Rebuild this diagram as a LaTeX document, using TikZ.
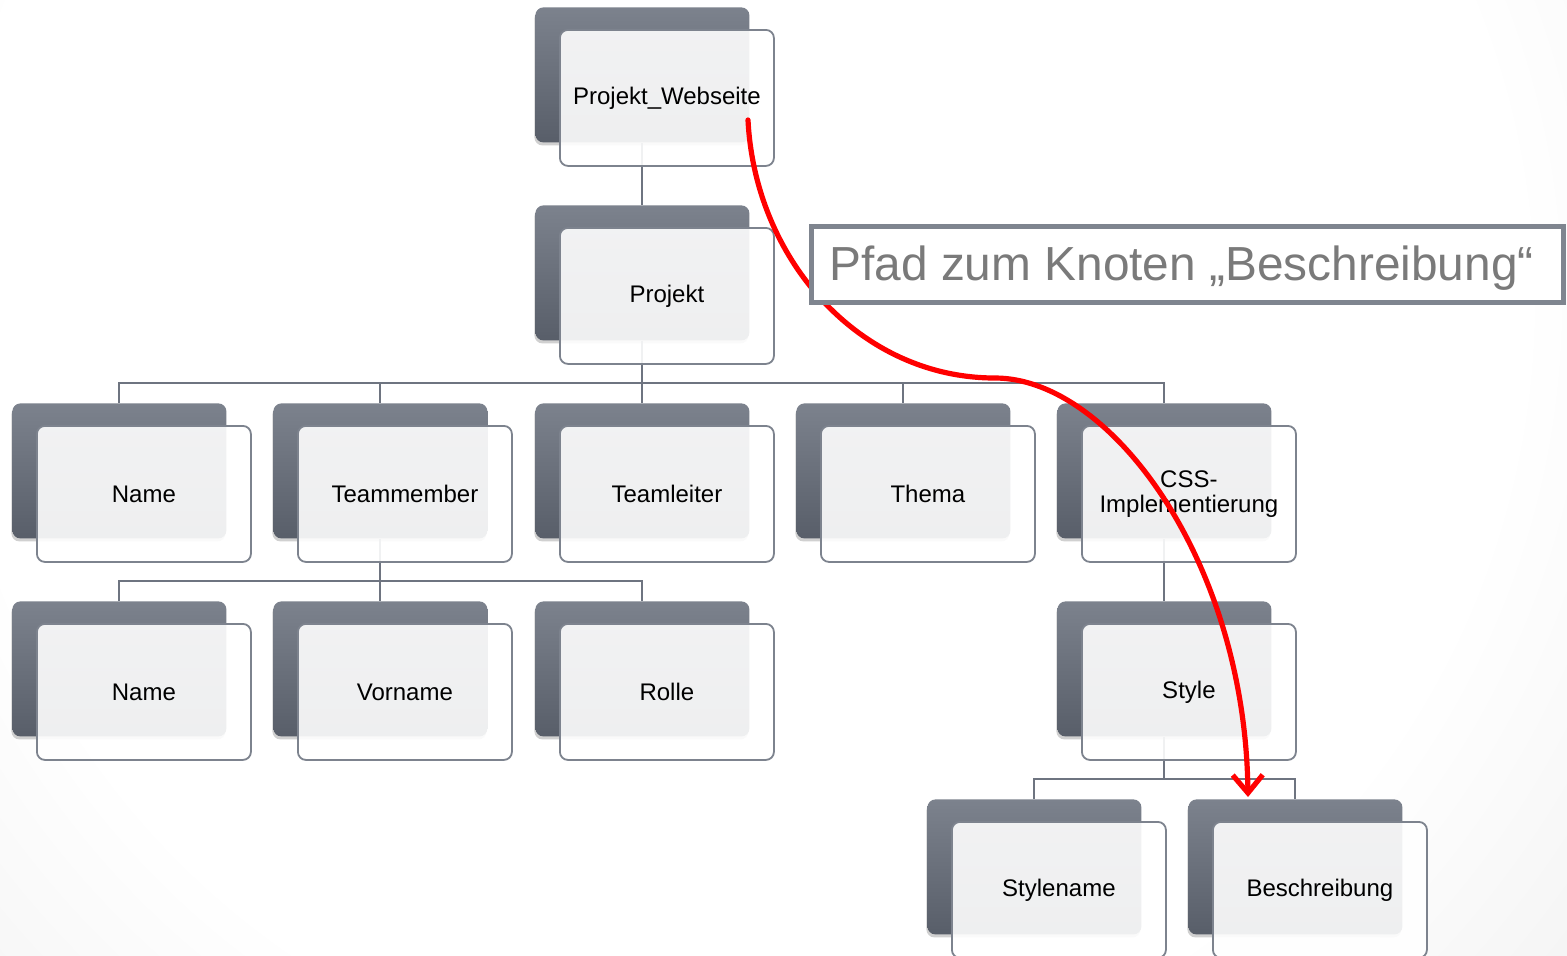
\documentclass[tikz,border=0pt]{standalone}
\usepackage{fontspec}
\setmainfont{Liberation Sans}
\usetikzlibrary{arrows.meta,calc,shadows}

\definecolor{boxtop}{HTML}{7C828D}
\definecolor{boxbot}{HTML}{585E69}
\definecolor{rimgray}{HTML}{7D838E}
\definecolor{linegray}{HTML}{6E7480}
\definecolor{pathred}{HTML}{FF0000}
\definecolor{captiongray}{HTML}{7A7A7A}
\definecolor{framegray}{HTML}{7F858F}

% soft background glow
\pgfdeclareradialshading{bgglow}{\pgfpoint{0bp}{0bp}}{color(0bp)=(white); color(16bp)=(white); color(50bp)=(black!24)}

\tikzset{
  backcard/.style={anchor=north west, minimum width=107pt, minimum height=67.5pt,
    inner sep=0pt, rounded corners=4pt, top color=boxtop, bottom color=boxbot, draw=none,
    drop shadow={shadow xshift=-0.5pt, shadow yshift=-1.5pt, opacity=0.3, fill=black!60}},
  frontcard/.style={anchor=north west, minimum width=107pt, minimum height=68pt,
    inner sep=0pt, rounded corners=4pt, fill=white, fill opacity=0.9, text opacity=1,
    draw=rimgray, line width=0.9pt, align=center,
    font=\fontsize{12}{12.5}\selectfont},
  conn/.style={draw=linegray, line width=1pt},
  redpath/.style={draw=pathred, line width=2.6pt, line cap=round,
    -{Straight Barb[length=9pt,width=15pt]}},
  captionbox/.style={anchor=north west, draw=framegray, line width=2.5pt, fill=white,
    minimum height=38pt, inner xsep=9pt, text height=19pt, text depth=3pt,
    text=captiongray, font=\fontsize{23.9}{26}\selectfont}
}

\begin{document}
\begin{tikzpicture}[x=0.5pt, y=-0.5pt]
  \useasboundingbox (0,0) rectangle (1567,955);

  % background
  \begin{scope}
    \clip (0,0) rectangle (1567,955);
    \shade[shading=bgglow] (740,300) circle (610pt);
  \end{scope}

  % dark back cards
  \foreach \n/\x/\y in {top/535/7, proj/535/205,
      r1/12/403, r2/273/403, r3/535/403, r4/796/403, r5/1057/403,
      t1/12/601, t2/273/601, t3/535/601, sty/1057/601,
      s1/927/799, s2/1188/799}
    \node[backcard] (\n) at (\x,\y) {};

  % connectors
  \draw[conn] (top.south) -- (proj.north);
  \foreach \c in {r1,r2,r3,r4,r5}
    \draw[conn] (proj.south) |- ($(\c.north)+(0,-20)$) -- (\c.north);
  \foreach \c in {t1,t2,t3}
    \draw[conn] (r2.south) |- ($(\c.north)+(0,-20)$) -- (\c.north);
  \draw[conn] (r5.south) -- (sty.north);
  \foreach \c in {s1,s2}
    \draw[conn] (sty.south) |- ($(\c.north)+(0,-20)$) -- (\c.north);

  % front cards with labels
  \foreach \n/\t in {top/Projekt\_Webseite, proj/Projekt,
      r1/Name, r2/Teammember, r3/Teamleiter, r4/Thema, r5/{CSS-\\Implementierung},
      t1/Name, t2/Vorname, t3/Rolle, sty/Style,
      s1/Stylename, s2/Beschreibung}
    \node[frontcard] (\n-f) at ($(\n.north west)+(24,22)$) {\t};

  % highlighted path
  \coordinate (redstart) at (748,120);
  \coordinate (redend) at (1248,797);
  \draw[redpath] (redstart) .. controls (755,260) and (860,378) .. (995,378)
    .. controls (1110,378) and (1245,560) .. (redend);

  % caption
  \node[captionbox] (caption) at (809,224)
    {\makebox[358pt][l]{Pfad zum Knoten „Beschreibung“}};
\end{tikzpicture}
\end{document}
